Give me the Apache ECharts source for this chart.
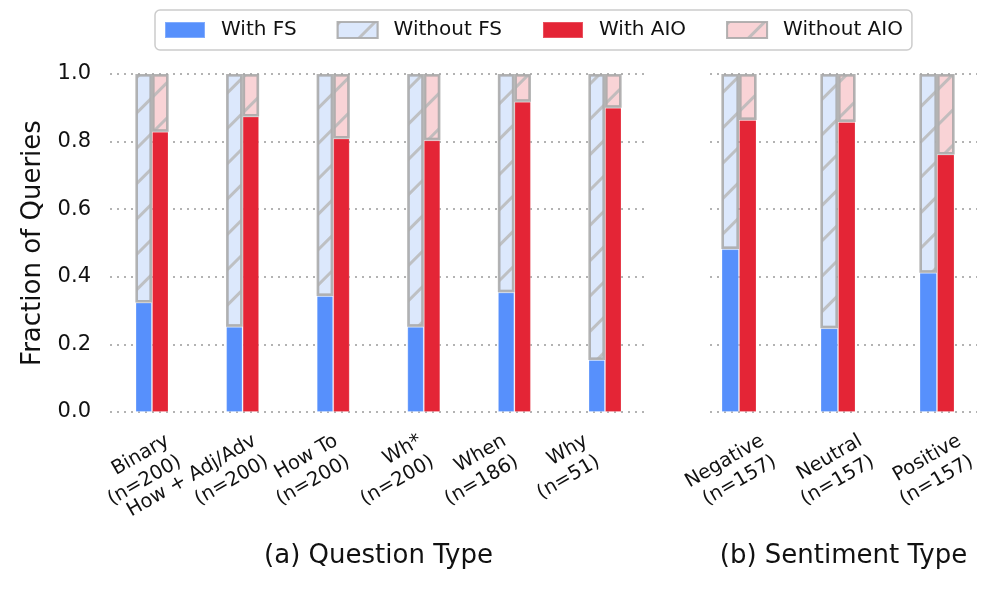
<!DOCTYPE html>
<html>
<head>
<meta charset="utf-8">
<script src="https://cdn.jsdelivr.net/npm/echarts@6/dist/echarts.min.js"></script>
<style>
html,body{margin:0;padding:0;background:#fff;}
#chart{width:997px;height:591px;}
</style>
</head>
<body>
<div id="chart"></div>
<script>
// ---------- data ----------
const categoriesQ = ['Binary\n(n=200)', 'How + Adj/Adv\n(n=200)', 'How To\n(n=200)', 'Wh*\n(n=200)', 'When\n(n=186)', 'Why\n(n=51)'];
const categoriesS = ['Negative\n(n=157)', 'Neutral\n(n=157)', 'Positive\n(n=157)'];

const withFS_Q     = [0.324, 0.252, 0.343, 0.252, 0.354, 0.154];
const withoutFS_Q  = [0.676, 0.748, 0.657, 0.748, 0.646, 0.846];
const withAIO_Q    = [0.829, 0.874, 0.809, 0.804, 0.918, 0.900];
const withoutAIO_Q = [0.171, 0.126, 0.191, 0.196, 0.082, 0.100];

const withFS_S     = [0.482, 0.248, 0.412];
const withoutFS_S  = [0.518, 0.752, 0.588];
const withAIO_S    = [0.864, 0.858, 0.762];
const withoutAIO_S = [0.136, 0.142, 0.238];

const yTicks = [0.0, 0.2, 0.4, 0.6, 0.8, 1.0];

// ---------- layout (label anchor shifts, in category units) ----------
const labelShiftQ = [0.24, 0.20, 0.10, 0.03, -0.04, -0.14];
const labelShiftS = [0.30, 0.29, 0.29];

const FONT = 'DejaVu Sans';
const C_FS = '#5790fc', C_FS_L = '#dce8fc', C_AIO = '#e42536', C_AIO_L = '#f9d3d6';
const EDGE = 'rgba(165,165,165,0.6)';
const hatch = { symbol: 'rect', symbolSize: 1, dashArrayX: [1, 0], dashArrayY: [2.2, 22], rotation: -Math.PI / 4, color: 'rgba(185,185,185,0.85)' };

// bar grids (category bands) and frame grids (gridlines + labels)
const grids = [
  { left: 106.7, top: 74, width: 543.6, height: 338 },   // 0: bars, question type
  { left: 689.5, top: 74, width: 297, height: 338 },     // 1: bars, sentiment
  { left: 110, top: 74, width: 537, height: 338 },       // 2: frame, question type
  { left: 710, top: 74, width: 267, height: 338 }        // 3: frame, sentiment
];

function barX(grid, cats) {
  return { gridIndex: grid, type: 'category', data: cats, boundaryGap: true,
    axisLine: { show: false }, axisTick: { show: false }, axisLabel: { show: false }, splitLine: { show: false } };
}
function barY(grid) {
  return { gridIndex: grid, type: 'value', min: 0, max: 1, interval: 0.2,
    axisLine: { show: false }, axisTick: { show: false }, axisLabel: { show: false }, splitLine: { show: false } };
}
// frame x axis; "which" selects the label indices shown on this axis (split so overlapping labels both stay)
function frameX(grid, min, max, cats, shifts, title, which) {
  const idx = cats.map((c, i) => i).filter(which);
  return {
    gridIndex: grid, type: 'value', min: min, max: max, position: 'bottom', offset: 0,
    axisLine: { show: false }, axisTick: { show: false }, splitLine: { show: false },
    axisLabel: {
      customValues: idx.map(i => i + shifts[i]),
      formatter: v => cats[Math.round(v)] || '',
      hideOverlap: false, showMinLabel: true, showMaxLabel: true,
      rotate: 30, fontSize: 19.5, lineHeight: 24, margin: 38, color: '#111', fontFamily: FONT
    },
    name: title, nameLocation: 'middle', nameGap: 131,
    nameTextStyle: { fontSize: 26, color: '#111', fontFamily: FONT }
  };
}
function frameY(grid, showLabels) {
  return {
    gridIndex: grid, type: 'value', min: yTicks[0], max: yTicks[yTicks.length - 1], interval: 0.2,
    axisLine: { show: false }, axisTick: { show: false },
    axisLabel: { show: showLabels, formatter: v => v.toFixed(1), fontSize: 21, margin: 19, color: '#111', fontFamily: FONT },
    splitLine: { show: true, lineStyle: { type: [2, 5], color: '#9a9a9a', width: 1.6 } },
    name: showLabels ? 'Fraction of Queries' : '', nameLocation: 'middle', nameGap: 64,
    nameTextStyle: { fontSize: 26, color: '#111', fontFamily: FONT }
  };
}
function seriesSet(ai, suffix, bw, fs, nfs, aio, naio) {
  const base = { type: 'bar', xAxisIndex: ai, yAxisIndex: ai, barWidth: bw, barGap: '0%' };
  return [
    Object.assign({ name: 'With FS', stack: 'fs' + suffix, data: fs,
      itemStyle: { color: C_FS, borderColor: 'rgba(255,255,255,0.25)', borderWidth: 1 } }, base),
    Object.assign({ name: 'Without FS', stack: 'fs' + suffix, data: nfs,
      itemStyle: { color: C_FS_L, borderColor: EDGE, borderWidth: 2.5, decal: hatch } }, base),
    Object.assign({ name: 'With AIO', stack: 'aio' + suffix, data: aio,
      itemStyle: { color: C_AIO, borderColor: 'rgba(255,255,255,0.2)', borderWidth: 1 } }, base),
    Object.assign({ name: 'Without AIO', stack: 'aio' + suffix, data: naio,
      itemStyle: { color: C_AIO_L, borderColor: EDGE, borderWidth: 2.5, decal: hatch } }, base)
  ];
}

const xQa = frameX(2, -0.4636, 5.4636, categoriesQ, labelShiftQ, '(a) Question Type', i => i % 2 === 0);
const xQb = frameX(2, -0.4636, 5.4636, categoriesQ, labelShiftQ, '', i => i % 2 === 1);
const xS  = frameX(3, -0.293, 2.404, categoriesS, labelShiftS, '(b) Sentiment Type', () => true);

const chart = echarts.init(document.getElementById('chart'), null, { renderer: 'canvas' });
chart.setOption({
  animation: false,
  textStyle: { fontFamily: FONT },
  legend: {
    top: 10, left: 155,
    data: ['With FS', 'Without FS', 'With AIO', 'Without AIO'],
    icon: 'rect', itemWidth: 40, itemHeight: 16, itemGap: 40,
    textStyle: { fontSize: 20, color: '#111', fontFamily: FONT, padding: [0, 0, 0, 11] },
    borderColor: '#cccccc', borderWidth: 1.5, borderRadius: 5, padding: [10, 9],
    backgroundColor: '#fff'
  },
  grid: grids,
  xAxis: [barX(0, categoriesQ), barX(1, categoriesS), xQa, xQb, xS],
  yAxis: [barY(0), barY(1), frameY(2, true), frameY(3, false)],
  series: [].concat(
    seriesSet(0, 'Q', 16.5, withFS_Q, withoutFS_Q, withAIO_Q, withoutAIO_Q),
    seriesSet(1, 'S', 17.5, withFS_S, withoutFS_S, withAIO_S, withoutAIO_S)
  )
});
</script>
</body>
</html>
